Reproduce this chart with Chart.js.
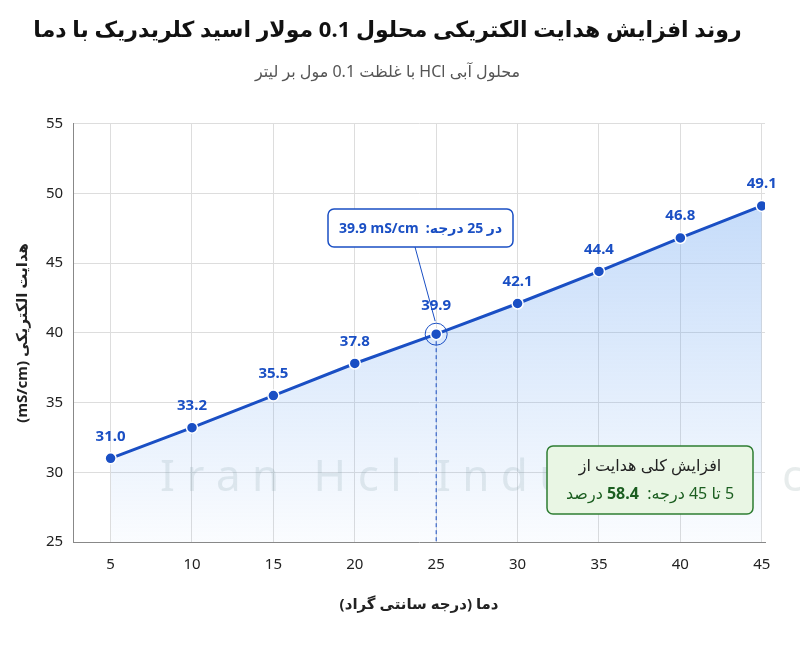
<!DOCTYPE html>
<html><head><meta charset="utf-8">
<script src="https://cdn.jsdelivr.net/npm/chart.js@4"></script>
<style>body{margin:0;background:#fff}#w{width:800px;height:666px}canvas{direction:rtl}</style>
</head><body><div id="w"><canvas id="c" dir="rtl"></canvas></div>
<script>
const temps=[5,10,15,20,25,30,35,40,45];
const conductivity=[31.0,33.2,35.5,37.8,39.9,42.1,44.4,46.8,49.1];
const titleText='روند افزایش هدایت الکتریکی محلول 0.1 مولار اسید کلریدریک با دما';
const subtitleText='محلول آبی HCl با غلظت 0.1 مول بر لیتر';
const yTitle='هدایت الکتریکی (mS/cm)';
const xTitle='دما (درجه سانتی گراد)';
const calloutText='در 25 درجه:  \u206639.9 mS/cm\u2069';
const summaryLine1='افزایش کلی هدایت از';
const summaryLine2a='5 تا 45 درجه:  ';
const summaryValue='58.4';
const summaryLine2b=' درصد';
const F='"Noto Sans","DejaVu Sans",sans-serif';
const blue='#1a4fc4';

const deco={id:'deco',
beforeDatasetsDraw(ch){const c=ch.ctx;c.save();c.direction='ltr';
 c.font='44px '+F;c.fillStyle='rgba(120,150,150,0.18)';c.textAlign='left';c.textBaseline='middle';
 c.fillText('I r a n   H c l   I n d u s t r i e s   c o',160,478);c.restore();},
afterDatasetsDraw(ch){const c=ch.ctx,x=ch.scales.x,y=ch.scales.y;c.save();c.direction='rtl';
 const px=x.getPixelForValue(25),py=y.getPixelForValue(39.9);
 c.setLineDash([4,3]);c.strokeStyle=blue;c.lineWidth=1;c.beginPath();c.moveTo(px,py);c.lineTo(px,y.bottom);c.stroke();c.setLineDash([]);
 c.beginPath();c.arc(px,py,11,0,Math.PI*2);c.strokeStyle=blue;c.stroke();
 const bx=328,by=209,bw=185,bh=38;
 c.beginPath();c.moveTo(415,by+bh);c.lineTo(px-1,py-13);c.stroke();
 c.fillStyle='#fff';c.beginPath();c.roundRect(bx,by,bw,bh,6);c.fill();c.lineWidth=1.5;c.stroke();
 c.fillStyle=blue;c.font='bold 14px '+F;c.textAlign='center';c.textBaseline='middle';c.fillText(calloutText,bx+bw/2,by+bh/2+1);
 const sx=547,sy=446,sw=206,sh=68;
 c.fillStyle='#e9f6e4';c.strokeStyle='#2e7d32';c.beginPath();c.roundRect(sx,sy,sw,sh,6);c.fill();c.stroke();
 c.fillStyle='#222';c.font='16px '+F;c.fillText(summaryLine1,sx+sw/2,sy+20);
 // line 2 drawn piecewise right-to-left
 const nF='16px '+F,bF='bold 16px '+F;
 c.font=nF;const wa=c.measureText(summaryLine2a).width,wb=c.measureText(summaryLine2b).width;
 c.font=bF;const wv=c.measureText(summaryValue).width;
 let rx=sx+sw/2+(wa+wb+wv)/2;c.textAlign='right';c.fillStyle='#1b5e20';
 c.font=nF;c.fillText(summaryLine2a,rx,sy+48);rx-=wa;
 c.direction='ltr';c.font=bF;c.fillText(summaryValue,rx,sy+48);rx-=wv;
 c.direction='rtl';c.font=nF;c.fillText(summaryLine2b,rx,sy+48);
 c.direction='ltr';c.textAlign='center';c.font='bold 15px '+F;c.fillStyle=blue;
 ch.getDatasetMeta(0).data.forEach((p,i)=>{c.fillText(conductivity[i].toFixed(1),p.x,p.y-(i===4?28:22));});
 c.restore();}};

new Chart(document.getElementById('c'),{type:'line',
data:{datasets:[{data:temps.map((t,i)=>({x:t,y:conductivity[i]})),borderColor:blue,borderWidth:3,
 pointRadius:5.5,pointBackgroundColor:blue,pointBorderColor:'#fff',pointBorderWidth:1.5,
 fill:'start',backgroundColor:(ctx)=>{const a=ctx.chart.chartArea;if(!a)return 'rgba(100,160,240,0.2)';
 const g=ctx.chart.ctx.createLinearGradient(0,a.top,0,a.bottom);g.addColorStop(0,'rgba(100,160,240,0.45)');g.addColorStop(1,'rgba(100,160,240,0.03)');return g;}}]},
options:{responsive:true,maintainAspectRatio:false,animation:false,
 layout:{padding:{left:10,right:35,top:0,bottom:48}},
 plugins:{legend:{display:false},tooltip:{enabled:false},
  title:{display:true,text:titleText,font:{family:F,size:22,weight:'bold'},color:'#111',padding:{top:18,bottom:18}},
  subtitle:{display:true,text:subtitleText,font:{family:F,size:16},color:'#555',padding:{bottom:42}}},
 scales:{
  x:{type:'linear',min:2.7,max:45.2,afterBuildTicks(s){s.ticks=temps.map(v=>({value:v}));},
   grid:{color:'#ddd',borderDash:[4,4],drawTicks:false},border:{color:'#888'},
   ticks:{font:{family:F,size:15},color:'#222',padding:14},
   title:{display:true,text:xTitle,font:{family:F,size:15,weight:'bold'},color:'#222',padding:{top:8}}},
  y:{min:25,max:55,ticks:{stepSize:5,font:{family:F,size:15},color:'#222',padding:10},
   grid:{color:'#ddd',borderDash:[4,4],drawTicks:false},border:{color:'#888'},
   title:{display:true,text:yTitle,font:{family:F,size:15,weight:'bold'},color:'#222'}}}},
plugins:[deco]});
</script></body></html>
